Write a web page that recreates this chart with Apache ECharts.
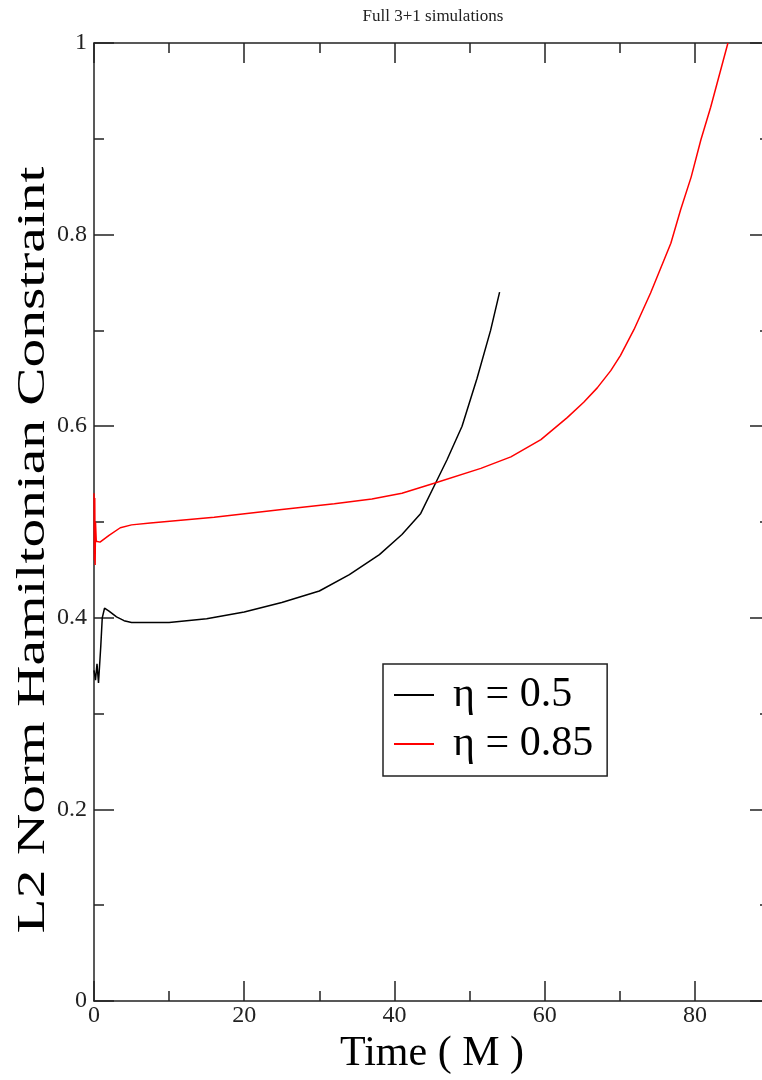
<!DOCTYPE html>
<html>
<head>
<meta charset="utf-8">
<script src="https://cdn.jsdelivr.net/npm/echarts@6/dist/echarts.min.js"></script>
<style>html,body{margin:0;padding:0;background:#fff;overflow:hidden}#c{width:790px;height:1080px}</style>
</head>
<body>
<div id="c"></div>
<script>
var titleText = 'Full 3+1 simulations';
var xTitle = 'Time ( M )';
var yTitle = 'L2 Norm Hamiltonian Constraint';
var seriesNames = ['\u03b7 = 0.5', '\u03b7 = 0.85'];

var blackT = [0, 0.2, 0.4, 0.6, 0.9, 1.1, 1.4, 2, 3, 4, 5, 7.5, 10, 15, 20, 25, 30, 34, 38, 41, 43.5, 45.5, 47, 49, 51, 52.8, 54];
var blackV = [0.345, 0.335, 0.352, 0.332, 0.37, 0.40, 0.41, 0.407, 0.401, 0.397, 0.395, 0.395, 0.395, 0.399, 0.406, 0.416, 0.428, 0.445, 0.466, 0.487, 0.509, 0.541, 0.565, 0.600, 0.650, 0.700, 0.740];

var redT = [0, 0.05, 0.1, 0.15, 0.2, 0.3, 0.8, 2, 3.5, 5, 7.5, 16, 25, 32, 37, 41, 45.5, 51.5, 55.5, 59.5, 63, 65.2, 67, 68.8, 70.1, 71.9, 74.1, 76.8, 78.1, 79.5, 80.8, 82.1, 84.4];
var redV = [0.53, 0.46, 0.525, 0.455, 0.50, 0.48, 0.479, 0.486, 0.494, 0.497, 0.499, 0.505, 0.513, 0.519, 0.524, 0.530, 0.541, 0.556, 0.568, 0.586, 0.609, 0.625, 0.640, 0.658, 0.674, 0.701, 0.739, 0.791, 0.826, 0.860, 0.899, 0.933, 1.0];

var xMin = 0, xMax = 90, xMajor = 20, xMinor = 10;
var yMin = 0, yMax = 1, yMajor = 0.2;

function pairs(t, v) { return t.map(function (x, i) { return [x, v[i]]; }); }

var serif = 'Liberation Serif';
var axisCol = '#222';

function xAx(pos, interval, tickLen, showLabel, showLine) {
  return {
    type: 'value', position: pos, min: xMin, max: xMax, interval: interval,
    axisLine: { show: showLine, onZero: false, lineStyle: { color: axisCol, width: 1.5 } },
    axisTick: { show: true, inside: true, length: tickLen, lineStyle: { color: axisCol, width: 1.5 } },
    axisLabel: { show: showLabel, showMaxLabel: false, color: '#222', fontFamily: serif, fontSize: 24, margin: 3 },
    splitLine: { show: false }
  };
}
function yAx(pos, showLabel) {
  return {
    type: 'value', position: pos, min: yMin, max: yMax, interval: yMajor,
    axisLine: { show: true, onZero: false, lineStyle: { color: axisCol, width: 1.5 } },
    axisTick: { show: true, inside: true, length: 20, lineStyle: { color: axisCol, width: 1.5 } },
    minorTick: { show: true, splitNumber: 2, length: 10, lineStyle: { color: axisCol, width: 1.5 } },
    axisLabel: { show: showLabel, color: '#222', fontFamily: serif, fontSize: 24, margin: 7 },
    splitLine: { show: false }
  };
}

var xAxes = [
  xAx('bottom', xMajor, 20, true, true),
  xAx('bottom', xMinor, 10, false, false),
  xAx('top', xMajor, 20, false, true),
  xAx('top', xMinor, 10, false, false)
];
xAxes[0].name = xTitle;
xAxes[0].nameLocation = 'middle';
xAxes[0].nameGap = 30;
xAxes[0].nameTextStyle = { fontFamily: serif, fontSize: 42, color: '#000' };

var yAxes = [yAx('left', true), yAx('right', false)];

var chart = echarts.init(document.getElementById('c'), null, { renderer: 'canvas' });
chart.setOption({
  animation: false,
  backgroundColor: '#fff',
  title: {
    text: titleText, left: 428, top: 3, textAlign: 'center',
    textStyle: { fontFamily: serif, fontSize: 17, fontWeight: 'normal', color: '#222' }
  },
  graphic: [{
    type: 'text', x: 33, y: 550, rotation: Math.PI / 2, scaleX: 1.4,
    style: { text: yTitle, font: '41px "Liberation Serif"', fill: '#000', align: 'center', verticalAlign: 'middle' }
  }],
  legend: {
    orient: 'vertical', left: 383, top: 664,
    padding: [10, 14, 11, 11], itemGap: 7,
    borderColor: '#222', borderWidth: 1.5,
    itemWidth: 40, itemHeight: 2, icon: 'rect',
    textStyle: { fontFamily: serif, fontSize: 42, color: '#000', lineHeight: 40, padding: [0, 0, 0, 14] },
    data: seriesNames
  },
  grid: { left: 94, top: 43, width: 676, height: 958, containLabel: false },
  xAxis: xAxes,
  yAxis: yAxes,
  series: [
    { name: seriesNames[0], type: 'line', xAxisIndex: 0, yAxisIndex: 0, data: pairs(blackT, blackV),
      showSymbol: false, smooth: false, lineStyle: { color: '#000', width: 1.5 }, itemStyle: { color: '#000' } },
    { name: seriesNames[1], type: 'line', xAxisIndex: 0, yAxisIndex: 0, data: pairs(redT, redV),
      showSymbol: false, smooth: false, lineStyle: { color: '#ff0000', width: 1.5 }, itemStyle: { color: '#ff0000' } }
  ]
});
</script>
</body>
</html>
